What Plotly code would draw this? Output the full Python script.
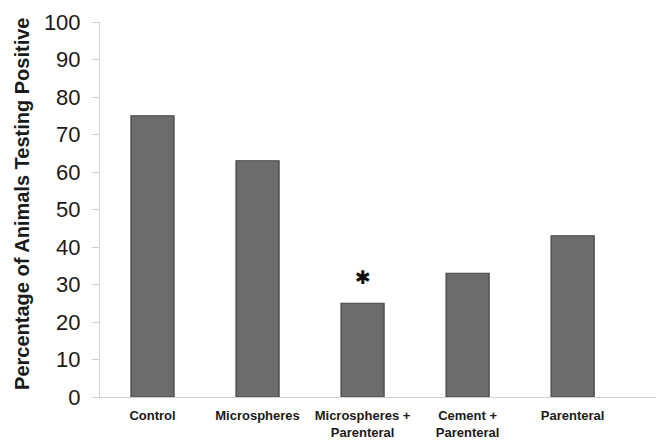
import plotly.graph_objects as go

categories = ["Control", "Microspheres", "Microspheres +<br>Parenteral", "Cement +<br>Parenteral", "Parenteral"]
values = [75, 63, 25, 33, 43]
significant = [False, False, True, False, False]
y_ticks = [0, 10, 20, 30, 40, 50, 60, 70, 80, 90, 100]

fig = go.Figure()
fig.add_trace(go.Bar(
    x=list(range(len(categories))), y=values,
    width=0.41,
    marker=dict(color="#6c6c6c", line=dict(color="#444444", width=1.2)),
))

for i, (v, s) in enumerate(zip(values, significant)):
    if s:
        fig.add_annotation(x=i, y=v + 7, text="✱", showarrow=False,
                           font=dict(size=19, color="#111", family="DejaVu Sans"))

fig.add_annotation(
    xref="paper", yref="paper", x=(14 - 92) / 564, y=0.515,
    text="<b>Percentage of Animals Testing Positive</b>", textangle=-90,
    showarrow=False, xanchor="center", yanchor="middle",
    font=dict(size=20, color="#1a1a1a"),
)

fig.update_layout(
    width=656, height=435,
    margin=dict(l=92, r=0, t=14, b=46),
    paper_bgcolor="white", plot_bgcolor="white",
    showlegend=False,
    font=dict(family="Liberation Sans, Arial, sans-serif", color="#1a1a1a"),
    xaxis=dict(
        range=[-0.5, 4.87],
        automargin=False,
        tickmode="array",
        tickvals=list(range(len(categories))),
        ticktext=["<b>" + c.replace("<br>", "</b><br><b>") + "</b>" for c in categories],
        tickfont=dict(size=13, color="#1a1a1a"),
        ticklabelstandoff=6,
        showline=True, linecolor="#cfcfcf", linewidth=1,
        showgrid=False, zeroline=False,
        ticks="",
    ),
    yaxis=dict(
        range=[0, 100],
        automargin=False,
        tickvals=y_ticks,
        tickfont=dict(size=22, color="#1a1a1a"),
        ticklabelstandoff=7,
        showline=True, linecolor="#cfcfcf", linewidth=1,
        ticks="outside", ticklen=7, tickcolor="#cfcfcf",
        showgrid=False, zeroline=False,
    ),
)

fig.write_html("out.html")
